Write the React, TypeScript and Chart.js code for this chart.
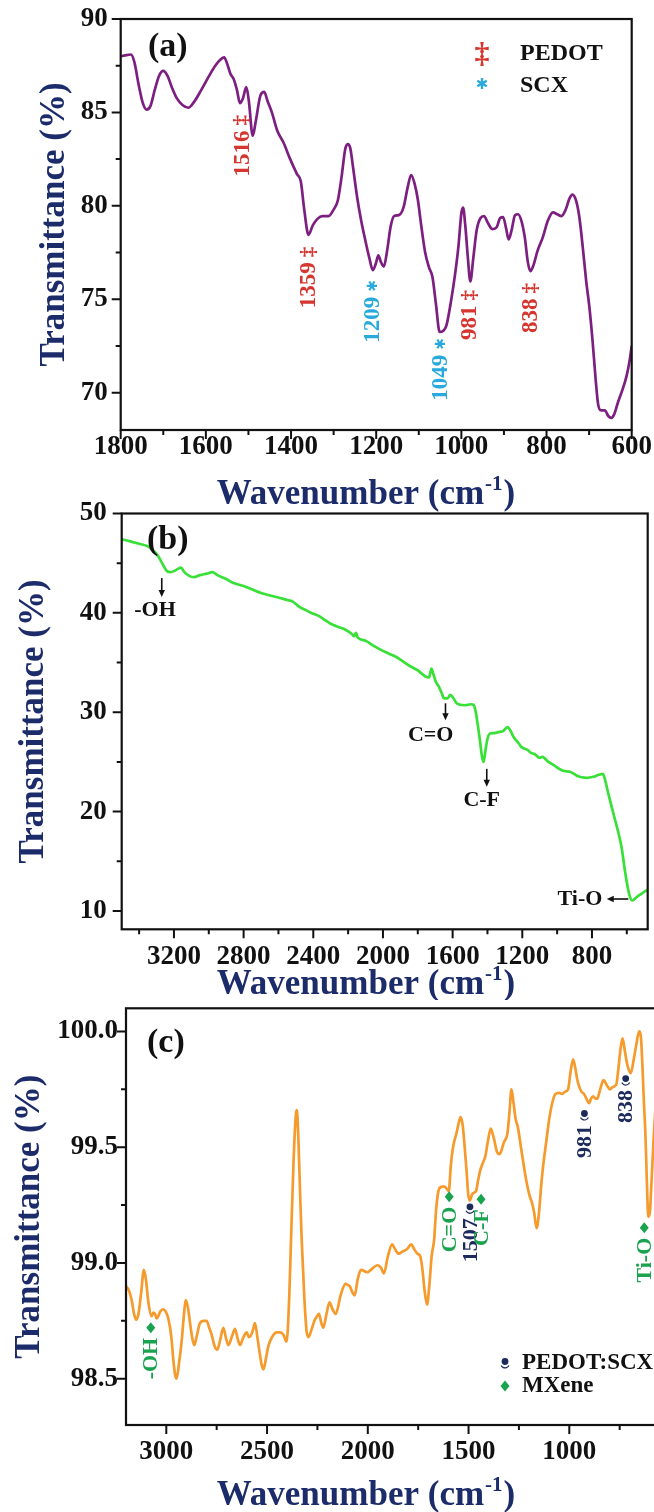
import React, { useEffect, useRef } from 'react';
import { Chart, registerables } from 'chart.js';

Chart.register(...registerables);

const SERIF = "'Liberation Serif', 'Times New Roman', 'DejaVu Sans', serif";
const SYMBOL = "'DejaVu Sans', 'Liberation Serif', sans-serif";
const NAVY = '#1c2c6a';
const INK = '#111111';
const RED = '#d5362f';
const CYAN = '#2aaadc';
const GREEN_LABEL = '#1aa34f';
const NAVY_LABEL = '#1d2a5c';

// ---------------- Panel (a): PEDOT:SCX ----------------
const A_WAVENUMBER = [1800, 1790, 1776, 1768, 1758, 1748, 1739, 1730, 1720, 1710, 1700, 1690, 1680, 1668, 1655, 1641, 1628, 1612, 1595, 1578, 1565, 1557, 1550, 1542, 1535, 1527, 1520, 1513, 1505, 1499, 1490, 1483, 1472, 1463, 1455, 1445, 1432, 1418, 1402, 1386, 1377, 1369, 1359, 1349, 1338, 1326, 1312, 1300, 1290, 1281, 1273, 1267, 1261, 1254, 1245, 1236, 1226, 1216, 1208, 1201, 1195, 1189, 1182, 1175, 1166, 1158, 1147, 1136, 1126, 1118, 1110, 1102, 1094, 1085, 1076, 1068, 1060, 1051, 1043, 1035, 1025, 1015, 1007, 1000, 996, 991, 985, 979, 972, 964, 955, 947, 937, 927, 917, 909, 902, 895, 889, 882, 874, 867, 859, 851, 844, 838, 831, 821, 809, 797, 785, 775, 765, 755, 746, 739, 731, 723, 715, 707, 699, 692, 685, 679, 672, 663, 655, 648, 641, 632, 621, 612, 605, 600];
const A_TRANSMITTANCE = [88.0, 88.05, 88.1, 87.7, 86.5, 85.5, 85.15, 85.35, 86.2, 86.95, 87.22, 86.95, 86.35, 85.75, 85.4, 85.25, 85.55, 86.15, 86.85, 87.5, 87.85, 87.95, 87.6, 87.05, 86.8, 86.2, 85.5, 85.75, 86.35, 85.6, 83.75, 84.5, 85.9, 86.1, 85.6, 85.0, 84.0, 83.4, 82.5, 81.7, 81.3, 79.8, 78.45, 78.95, 79.3, 79.45, 79.45, 79.8, 80.3, 81.6, 83.0, 83.3, 83.1, 82.0, 80.5, 79.3, 78.2, 77.2, 76.55, 76.9, 77.35, 77.0, 76.75, 77.5, 78.9, 79.45, 79.5, 79.9, 81.0, 81.65, 81.2, 80.3, 78.9, 77.5, 76.7, 76.2, 74.8, 73.25, 73.3, 73.6, 74.8, 76.3, 77.8, 79.6, 79.9, 79.0, 77.3, 75.95, 77.2, 78.7, 79.35, 79.45, 79.05, 78.75, 78.85, 79.35, 79.4, 78.8, 78.2, 78.7, 79.5, 79.55, 79.2, 78.3, 77.0, 76.5, 76.8, 77.6, 78.3, 79.2, 79.65, 79.55, 79.45, 79.8, 80.4, 80.6, 80.3, 79.4, 77.8, 76.0, 74.5, 72.8, 70.8, 69.4, 69.05, 69.05, 68.75, 68.65, 68.85, 69.5, 70.2, 70.9, 71.7, 72.5];
const A_X_TICKS = [1800, 1600, 1400, 1200, 1000, 800, 600];
const A_X_MINOR = [1700, 1500, 1300, 1100, 900, 700];
const A_Y_TICKS = [70, 75, 80, 85, 90];
const A_Y_MINOR = [72.5, 77.5, 82.5, 87.5];
const A_PEAK_LABELS = ['1516', '1359', '1209', '1049', '981', '838'];
const A_PEAK_WN = [1516, 1359, 1209, 1049, 981, 838];
const A_PEAK_LABEL_TOP = [84.86, 77.81, 76.03, 72.92, 75.49, 75.87];
const A_PEAK_GROUP = ['PEDOT', 'PEDOT', 'SCX', 'SCX', 'PEDOT', 'PEDOT'];
const A_LEGEND = ['PEDOT', 'SCX'];

// ---------------- Panel (b): MXene ----------------
const B_WAVENUMBER = [3500, 3450, 3400, 3350, 3320, 3290, 3262, 3240, 3220, 3200, 3175, 3160, 3140, 3110, 3085, 3050, 3010, 2980, 2950, 2900, 2858, 2800, 2750, 2700, 2660, 2600, 2550, 2520, 2480, 2440, 2400, 2375, 2330, 2300, 2260, 2215, 2180, 2165, 2155, 2145, 2100, 2060, 2020, 1980, 1940, 1900, 1850, 1800, 1756, 1735, 1722, 1710, 1697, 1680, 1662, 1650, 1630, 1613, 1595, 1577, 1530, 1495, 1480, 1468, 1457, 1442, 1432, 1422, 1412, 1400, 1385, 1360, 1338, 1310, 1285, 1270, 1250, 1222, 1205, 1170, 1150, 1130, 1100, 1086, 1050, 1022, 966, 926, 880, 859, 830, 792, 760, 737, 722, 706, 690, 668, 650, 630, 612, 597, 585, 568, 555, 543, 514, 486, 480];
const B_TRANSMITTANCE = [47.4, 47.2, 46.95, 46.7, 46.3, 45.7, 44.8, 44.2, 44.1, 44.2, 44.45, 44.55, 44.1, 43.7, 43.6, 43.8, 43.95, 44.1, 43.8, 43.4, 43.0, 42.7, 42.35, 42.0, 41.8, 41.55, 41.3, 41.15, 40.6, 40.25, 39.9, 39.75, 39.25, 38.9, 38.6, 38.3, 37.9, 37.65, 38.0, 37.5, 37.2, 36.75, 36.35, 36.0, 35.7, 35.3, 34.7, 34.2, 33.6, 33.5, 34.4, 33.8, 33.1, 32.6, 31.9, 31.4, 31.4, 31.75, 31.4, 30.9, 30.7, 30.8, 30.75, 30.1, 28.9, 27.0, 25.6, 25.0, 26.1, 27.3, 27.85, 27.9, 28.0, 28.1, 28.5, 28.2, 27.5, 26.9, 26.5, 26.2, 25.9, 25.8, 25.4, 25.5, 25.0, 24.7, 24.1, 24.0, 23.55, 23.45, 23.4, 23.5, 23.7, 23.8, 23.0, 21.8, 20.7, 19.2, 18.0, 16.4, 14.2, 12.6, 11.6, 11.05, 11.2, 11.4, 11.75, 12.07, 12.1];
const B_X_TICKS = [3200, 2800, 2400, 2000, 1600, 1200, 800];
const B_X_MINOR = [3400, 3000, 2600, 2200, 1800, 1400, 1000, 600];
const B_Y_TICKS = [10, 20, 30, 40, 50];
const B_Y_MINOR = [15, 25, 35, 45];
const B_BAND_LABELS = ['-OH', 'C=O', 'C-F'];
const B_ARROW_WN = [3270, 1641, 1404];
const B_ARROW_FROM = [43.5, 30.9, 24.3];
const B_ARROW_TO = [41.6, 29.2, 22.5];
const B_LABEL_WN = [3309, 1726, 1433];
const B_LABEL_T = [40.3, 27.7, 21.15];
const B_SIDE_LABEL = 'Ti-O';
const B_SIDE_LABEL_WN = 869;
const B_SIDE_LABEL_T = 11.2;
const B_SIDE_ARROW_WN = [591, 715];

// ---------------- Panel (c): PEDOT:SCX/MXene ----------------
const C_WAVENUMBER = [3200, 3185, 3172, 3160, 3150, 3138, 3125, 3111, 3100, 3089, 3073, 3064, 3056, 3048, 3040, 3030, 3015, 3003, 2990, 2975, 2965, 2957, 2949, 2938, 2924, 2912, 2904, 2893, 2882, 2870, 2861, 2850, 2833, 2815, 2800, 2787, 2775, 2760, 2747, 2732, 2717, 2705, 2692, 2675, 2659, 2645, 2634, 2617, 2601, 2590, 2581, 2570, 2560, 2548, 2538, 2527, 2518, 2505, 2494, 2475, 2452, 2435, 2419, 2403, 2390, 2381, 2368, 2357, 2352, 2345, 2336, 2328, 2315, 2303, 2294, 2280, 2265, 2252, 2242, 2232, 2221, 2205, 2190, 2175, 2159, 2135, 2111, 2100, 2090, 2075, 2065, 2050, 2034, 2003, 1985, 1972, 1951, 1935, 1920, 1900, 1879, 1865, 1847, 1827, 1805, 1785, 1770, 1754, 1740, 1730, 1718, 1706, 1695, 1683, 1671, 1660, 1646, 1630, 1619, 1608, 1598, 1588, 1577, 1560, 1550, 1540, 1530, 1521, 1510, 1502, 1494, 1480, 1463, 1452, 1442, 1430, 1417, 1405, 1390, 1375, 1359, 1349, 1339, 1325, 1307, 1297, 1287, 1278, 1266, 1256, 1240, 1224, 1210, 1197, 1185, 1175, 1162, 1150, 1140, 1131, 1115, 1100, 1085, 1069, 1050, 1037, 1020, 1006, 993, 981, 970, 960, 954, 940, 927, 915, 902, 892, 882, 870, 861, 850, 840, 830, 815, 798, 785, 767, 755, 745, 736, 725, 713, 695, 680, 668, 653, 645, 637, 630, 622, 615, 608, 600, 592, 580, 570, 560];
const C_TRANSMITTANCE = [98.9, 98.88, 98.84, 98.78, 98.755, 98.78, 98.87, 98.97, 98.92, 98.83, 98.77, 98.785, 98.78, 98.76, 98.77, 98.79, 98.8, 98.79, 98.76, 98.68, 98.58, 98.52, 98.5, 98.56, 98.66, 98.78, 98.84, 98.81, 98.74, 98.67, 98.645, 98.68, 98.74, 98.75, 98.75, 98.72, 98.69, 98.64, 98.625, 98.67, 98.72, 98.68, 98.645, 98.68, 98.715, 98.67, 98.645, 98.68, 98.7, 98.68, 98.685, 98.71, 98.74, 98.68, 98.62, 98.56, 98.54, 98.59, 98.64, 98.68, 98.7, 98.7, 98.69, 98.66, 98.85, 99.1, 99.45, 99.64, 99.66, 99.55, 99.3, 99.1, 98.85, 98.7, 98.68, 98.71, 98.75, 98.77, 98.78, 98.745, 98.72, 98.78, 98.83, 98.8, 98.78, 98.86, 98.91, 98.905, 98.9, 98.87, 98.86, 98.93, 98.97, 98.96, 98.97, 98.98, 98.99, 98.98, 98.955, 99.03, 99.08, 99.06, 99.04, 99.05, 99.06, 99.08, 99.06, 99.04, 99.03, 98.98, 98.88, 98.82, 98.9, 99.03, 99.1, 99.24, 99.32, 99.33, 99.33, 99.32, 99.31, 99.42, 99.5, 99.56, 99.6, 99.63, 99.6, 99.52, 99.4, 99.3, 99.27, 99.3, 99.31, 99.36, 99.4, 99.43, 99.46, 99.52, 99.58, 99.54, 99.48, 99.47, 99.48, 99.52, 99.56, 99.65, 99.75, 99.7, 99.62, 99.59, 99.5, 99.41, 99.34, 99.29, 99.26, 99.22, 99.15, 99.22, 99.33, 99.41, 99.52, 99.62, 99.69, 99.73, 99.735, 99.73, 99.74, 99.75, 99.83, 99.88, 99.84, 99.79, 99.77, 99.74, 99.73, 99.71, 99.69, 99.71, 99.72, 99.71, 99.71, 99.74, 99.77, 99.79, 99.77, 99.75, 99.76, 99.77, 99.85, 99.93, 99.97, 99.92, 99.86, 99.82, 99.88, 99.94, 100.0, 99.98, 99.85, 99.7, 99.55, 99.35, 99.2, 99.22, 99.35, 99.56, 99.7, 99.8];
const C_X_TICKS = [3000, 2500, 2000, 1500, 1000];
const C_X_MINOR = [2750, 2250, 1750, 1250, 750];
const C_Y_TICKS = [98.5, 99.0, 99.5, 100.0];
const C_Y_MINOR = [98.75, 99.25, 99.75];
const C_MARK_TEXT = ['-OH', 'C=O', '1507', 'C-F', '981', '838', 'Ti-O'];
const C_MARK_GROUP = ['MXene', 'MXene', 'PEDOT:SCX', 'MXene', 'PEDOT:SCX', 'PEDOT:SCX', 'MXene'];
const C_MARK_WN = [3077, 1596, 1493, 1438, 925, 720, 628];
const C_MARK_T = [98.72, 99.286, 99.236, 99.275, 99.639, 99.79, 99.152];
const C_LEGEND = ['PEDOT:SCX', 'MXene'];

type Scale = any;
type Ctx = CanvasRenderingContext2D;

function rotLabel(ctx: Ctx, x: number, yTop: number, text: string, color: string, size: number, sym?: string, symFont?: string) {
  ctx.save();
  ctx.translate(x, yTop);
  ctx.rotate(-Math.PI / 2);
  ctx.fillStyle = color;
  ctx.textBaseline = 'middle';
  ctx.textAlign = 'right';
  let end = 0;
  if (sym) {
    ctx.font = symFont as string;
    ctx.fillText(sym, 0, 1);
    end = -(ctx.measureText(sym).width + 5);
  }
  ctx.font = `bold ${size}px ${SERIF}`;
  ctx.fillText(text, end, 1);
  ctx.restore();
}

function arrow(ctx: Ctx, x1: number, y1: number, x2: number, y2: number) {
  const ang = Math.atan2(y2 - y1, x2 - x1);
  const head = 7;
  ctx.save();
  ctx.strokeStyle = INK;
  ctx.fillStyle = INK;
  ctx.lineWidth = 1.6;
  ctx.beginPath();
  ctx.moveTo(x1, y1);
  ctx.lineTo(x2 - Math.cos(ang) * head * 0.6, y2 - Math.sin(ang) * head * 0.6);
  ctx.stroke();
  ctx.beginPath();
  ctx.moveTo(x2, y2);
  ctx.lineTo(x2 - Math.cos(ang) * head + Math.sin(ang) * 3.2, y2 - Math.sin(ang) * head - Math.cos(ang) * 3.2);
  ctx.lineTo(x2 - Math.cos(ang) * head - Math.sin(ang) * 3.2, y2 - Math.sin(ang) * head + Math.cos(ang) * 3.2);
  ctx.closePath();
  ctx.fill();
  ctx.restore();
}

function diamond(ctx: Ctx, x: number, y: number, color: string) {
  ctx.save();
  ctx.fillStyle = color;
  ctx.beginPath();
  ctx.moveTo(x, y - 5.5);
  ctx.lineTo(x + 4.5, y);
  ctx.lineTo(x, y + 5.5);
  ctx.lineTo(x - 4.5, y);
  ctx.closePath();
  ctx.fill();
  ctx.restore();
}

function pawn(ctx: Ctx, x: number, y: number, color: string) {
  ctx.save();
  ctx.fillStyle = color;
  ctx.strokeStyle = color;
  ctx.beginPath();
  ctx.arc(x, y - 1.5, 3.4, 0, Math.PI * 2);
  ctx.fill();
  ctx.lineWidth = 1.3;
  ctx.beginPath();
  ctx.arc(x, y + 0.5, 4.4, 0.15 * Math.PI, 0.85 * Math.PI);
  ctx.stroke();
  ctx.restore();
}

function drawXTitle(ctx: Ctx, cx: number, cy: number) {
  const size = 35;
  const main = `bold ${size}px ${SERIF}`;
  const sup = `bold ${Math.round(size * 0.6)}px ${SERIF}`;
  const t1 = 'Wavenumber (cm';
  const t2 = '-1';
  const t3 = ')';
  ctx.save();
  ctx.fillStyle = NAVY;
  ctx.textAlign = 'left';
  ctx.textBaseline = 'alphabetic';
  ctx.font = main;
  const w1 = ctx.measureText(t1).width;
  const w3 = ctx.measureText(t3).width;
  ctx.font = sup;
  const w2 = ctx.measureText(t2).width;
  let x = cx - (w1 + w2 + w3 + 2) / 2;
  const base = cy + size * 0.33;
  ctx.font = main;
  ctx.fillText(t1, x, base);
  x += w1 + 1;
  ctx.font = sup;
  ctx.fillText(t2, x, base - size * 0.4);
  x += w2 + 1;
  ctx.font = main;
  ctx.fillText(t3, x, base);
  ctx.restore();
}

function drawA(ctx: Ctx, xs: Scale, ys: Scale) {
  A_PEAK_WN.forEach((wn, i) => {
    const pedot = A_PEAK_GROUP[i] === 'PEDOT';
    rotLabel(ctx, xs.getPixelForValue(wn), ys.getPixelForValue(A_PEAK_LABEL_TOP[i]), A_PEAK_LABELS[i], pedot ? RED : CYAN, 23,
      pedot ? '‡' : '✱', pedot ? `bold 21px ${SERIF}` : `14px ${SYMBOL}`);
  });
  ctx.save();
  ctx.textBaseline = 'middle';
  ctx.textAlign = 'center';
  ctx.fillStyle = RED;
  ctx.font = `bold 30px ${SERIF}`;
  ctx.fillText('‡', 482, 55);
  ctx.fillStyle = CYAN;
  ctx.font = `15px ${SYMBOL}`;
  ctx.fillText('✱', 482, 85);
  ctx.textAlign = 'left';
  ctx.fillStyle = INK;
  ctx.font = `bold 24px ${SERIF}`;
  ctx.fillText(A_LEGEND[0], 520, 54);
  ctx.fillText(A_LEGEND[1], 520, 86);
  ctx.restore();
}

function drawB(ctx: Ctx, xs: Scale, ys: Scale) {
  ctx.save();
  ctx.fillStyle = INK;
  ctx.font = `bold 22px ${SERIF}`;
  ctx.textAlign = 'center';
  ctx.textBaseline = 'middle';
  B_BAND_LABELS.forEach((lab, i) => {
    const ax = xs.getPixelForValue(B_ARROW_WN[i]);
    arrow(ctx, ax, ys.getPixelForValue(B_ARROW_FROM[i]), ax, ys.getPixelForValue(B_ARROW_TO[i]));
    ctx.fillText(lab, xs.getPixelForValue(B_LABEL_WN[i]), ys.getPixelForValue(B_LABEL_T[i]));
  });
  const ty = ys.getPixelForValue(B_SIDE_LABEL_T);
  ctx.fillText(B_SIDE_LABEL, xs.getPixelForValue(B_SIDE_LABEL_WN), ty);
  arrow(ctx, xs.getPixelForValue(B_SIDE_ARROW_WN[0]), ty, xs.getPixelForValue(B_SIDE_ARROW_WN[1]), ty);
  ctx.restore();
}

function drawC(ctx: Ctx, xs: Scale, ys: Scale) {
  C_MARK_WN.forEach((wn, i) => {
    const mx = C_MARK_GROUP[i] === 'MXene';
    const px = xs.getPixelForValue(wn);
    const py = ys.getPixelForValue(C_MARK_T[i]);
    if (mx) diamond(ctx, px, py, GREEN_LABEL);
    else pawn(ctx, px, py, NAVY_LABEL);
    rotLabel(ctx, px, py + 10, C_MARK_TEXT[i], mx ? GREEN_LABEL : NAVY_LABEL, 22);
  });
  pawn(ctx, 505, 363, NAVY_LABEL);
  diamond(ctx, 505, 386, GREEN_LABEL);
  ctx.save();
  ctx.fillStyle = INK;
  ctx.font = `bold 23px ${SERIF}`;
  ctx.textAlign = 'left';
  ctx.textBaseline = 'middle';
  ctx.fillText(C_LEGEND[0], 522, 363);
  ctx.fillText(C_LEGEND[1], 522, 386);
  ctx.restore();
}

interface PanelSpec {
  key: string;
  top: number; width: number; height: number;
  plot: { left: number; right: number; top: number; bottom: number };
  xMin: number; xMax: number; yMin: number; yMax: number;
  xs: number[]; ys: number[]; color: string;
  xTicks: number[]; xMinor: number[]; yTicks: number[]; yMinor: number[];
  yFmt: (v: number) => string;
  xTickPad: number; yTickPad: number; yTitlePad: number;
  titleX: number; titleY: number;
  tag: string; tagX: number; tagY: number;
  extra: (ctx: Ctx, xs: Scale, ys: Scale) => void;
}

const PANELS: PanelSpec[] = [
  {
    key: 'a', top: 0, width: 654, height: 515,
    plot: { left: 120.7, right: 631.7, top: 19, bottom: 430 },
    xMin: 600, xMax: 1800, yMin: 68, yMax: 90,
    xs: A_WAVENUMBER, ys: A_TRANSMITTANCE, color: '#7d1f80',
    xTicks: A_X_TICKS, xMinor: A_X_MINOR, yTicks: A_Y_TICKS, yMinor: A_Y_MINOR,
    yFmt: (v) => String(v),
    xTickPad: 4, yTickPad: 13, yTitlePad: 37,
    titleX: 366, titleY: 492,
    tag: '(a)', tagX: 148, tagY: 47, extra: drawA,
  },
  {
    key: 'b', top: 495, width: 654, height: 505,
    plot: { left: 121.7, right: 647.7, top: 18.5, bottom: 434.3 },
    xMin: 480, xMax: 3500, yMin: 8.15, yMax: 50,
    xs: B_WAVENUMBER, ys: B_TRANSMITTANCE, color: '#38e038',
    xTicks: B_X_TICKS, xMinor: B_X_MINOR, yTicks: B_Y_TICKS, yMinor: B_Y_MINOR,
    yFmt: (v) => String(v),
    xTickPad: 14.5, yTickPad: 15, yTitlePad: 16,
    titleX: 366, titleY: 487,
    tag: '(b)', tagX: 147, tagY: 45, extra: drawB,
  },
  {
    key: 'c', top: 1000, width: 700, height: 512,
    plot: { left: 126, right: 690.2, top: 8.3, bottom: 425 },
    xMin: 400, xMax: 3200, yMin: 98.3, yMax: 100.1,
    xs: C_WAVENUMBER, ys: C_TRANSMITTANCE, color: '#f59a2c',
    xTicks: C_X_TICKS, xMinor: C_X_MINOR, yTicks: C_Y_TICKS, yMinor: C_Y_MINOR,
    yFmt: (v) => v.toFixed(1),
    xTickPad: 13.5, yTickPad: 8, yTitlePad: 12,
    titleX: 366, titleY: 493,
    tag: '(c)', tagX: 147, tagY: 43, extra: drawC,
  },
];

function buildConfig(p: PanelSpec): any {
  const tickFont = { family: SERIF, size: 27, weight: 'bold' as const, lineHeight: 1 };
  const decor = {
    id: 'panelDecor' + p.key,
    afterDraw(chart: any) {
      const ctx: Ctx = chart.ctx;
      const a = chart.chartArea;
      const xs = chart.scales.x;
      const ys = chart.scales.y;
      ctx.save();
      ctx.strokeStyle = INK;
      ctx.lineWidth = 2.2;
      ctx.strokeRect(a.left, a.top, a.right - a.left, a.bottom - a.top);
      ctx.lineWidth = 2;
      ctx.beginPath();
      p.xTicks.forEach((v) => { const q = xs.getPixelForValue(v); ctx.moveTo(q, a.bottom); ctx.lineTo(q, a.bottom + 9); });
      p.xMinor.forEach((v) => { const q = xs.getPixelForValue(v); ctx.moveTo(q, a.bottom); ctx.lineTo(q, a.bottom + 5); });
      p.yTicks.forEach((v) => { const q = ys.getPixelForValue(v); ctx.moveTo(a.left, q); ctx.lineTo(a.left - 9, q); });
      p.yMinor.forEach((v) => { const q = ys.getPixelForValue(v); ctx.moveTo(a.left, q); ctx.lineTo(a.left - 5, q); });
      ctx.stroke();
      ctx.fillStyle = INK;
      ctx.font = `bold 34px ${SERIF}`;
      ctx.textAlign = 'left';
      ctx.textBaseline = 'middle';
      ctx.fillText(p.tag, p.tagX, p.tagY);
      ctx.restore();
      drawXTitle(ctx, p.titleX, p.titleY);
      p.extra(ctx, xs, ys);
    },
  };
  return {
    type: 'line',
    data: {
      datasets: [{
        label: 'Transmittance',
        data: p.xs.map((x, i) => ({ x, y: p.ys[i] })),
        borderColor: p.color,
        borderWidth: 2.7,
        pointRadius: 0,
        fill: false,
        cubicInterpolationMode: 'monotone',
      }],
    },
    options: {
      animation: false,
      responsive: false,
      maintainAspectRatio: false,
      devicePixelRatio: 1,
      events: [],
      layout: { padding: { left: 0, top: p.plot.top, right: p.width - p.plot.right, bottom: 0 } },
      plugins: { legend: { display: false }, tooltip: { enabled: false }, title: { display: false } },
      scales: {
        x: {
          type: 'linear', reverse: true, min: p.xMin, max: p.xMax,
          grid: { display: false, drawTicks: false }, border: { display: false },
          ticks: { font: tickFont, color: INK, padding: p.xTickPad, maxRotation: 0, autoSkip: false, callback: (v: number) => String(v) },
          afterBuildTicks: (s: any) => { s.ticks = p.xTicks.map((v) => ({ value: v })); },
          afterFit: (s: any) => { s.height = p.height - p.plot.bottom; s.paddingLeft = 0; s.paddingRight = 0; s.paddingTop = 0; s.paddingBottom = 0; },
          title: { display: false },
        },
        y: {
          type: 'linear', min: p.yMin, max: p.yMax,
          grid: { display: false, drawTicks: false }, border: { display: false },
          ticks: { font: tickFont, color: INK, padding: p.yTickPad, autoSkip: false, callback: (v: number) => p.yFmt(v) },
          afterBuildTicks: (s: any) => { s.ticks = p.yTicks.map((v) => ({ value: v })); },
          afterFit: (s: any) => { s.width = p.plot.left; s.paddingLeft = 0; s.paddingRight = 0; s.paddingTop = 0; s.paddingBottom = 0; },
          title: {
            display: true, text: 'Transmittance (%)', color: NAVY,
            font: { family: SERIF, size: 35, weight: 'bold', lineHeight: 1 },
            padding: { top: p.yTitlePad, bottom: 0 },
          },
        },
      },
    },
    plugins: [decor],
  };
}

function Panel({ spec }: { spec: PanelSpec }) {
  const ref = useRef<HTMLCanvasElement>(null);
  useEffect(() => {
    if (!ref.current) return;
    const chart = new Chart(ref.current, buildConfig(spec));
    return () => chart.destroy();
  }, [spec]);
  return (
    <canvas
      ref={ref}
      width={spec.width}
      height={spec.height}
      style={{ position: 'absolute', left: 0, top: spec.top, width: spec.width, height: spec.height }}
    />
  );
}

export default function App() {
  return (
    <div style={{ position: 'absolute', left: 0, top: 0, width: 654, height: 1512, overflow: 'hidden', background: '#ffffff' }}>
      {PANELS.map((p) => <Panel key={p.key} spec={p} />)}
    </div>
  );
}
